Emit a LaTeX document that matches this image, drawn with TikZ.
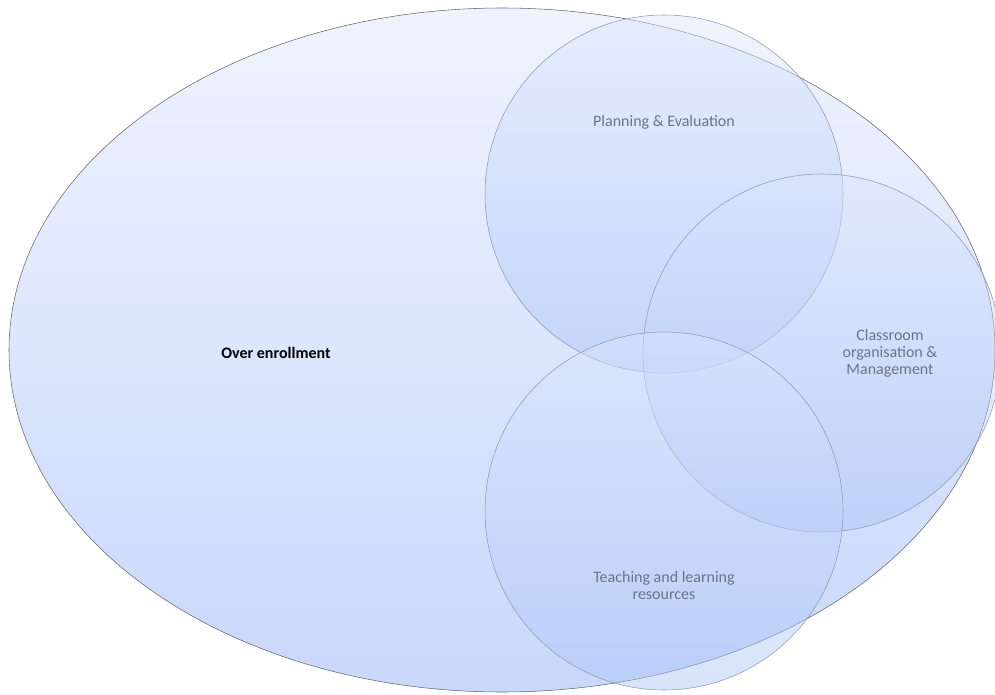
\documentclass[tikz,border=0pt]{standalone}
\usepackage{fontspec}
\setmainfont{Carlito}
\usepackage{tikz}

\definecolor{ovaltop}{HTML}{EFF3FE}
\definecolor{ovalbot}{HTML}{C8D8FB}
\definecolor{ringtop}{HTML}{DCE6FD}
\definecolor{ringbot}{HTML}{A9C2F6}
\definecolor{ringline}{HTML}{8C9BB4}
\definecolor{labelgray}{HTML}{6B7587}

\tikzset{
    oval/.style = {draw = black!60 , top color = ovaltop , bottom color = ovalbot},
    ring/.style = {draw = ringline , top color = ringtop , bottom color = ringbot , fill opacity = 0.45},
    ringlabel/.style = {text = labelgray , align = center , font = \fontsize{12}{12.75}\selectfont}
}

\begin{document}
\begin{tikzpicture}[x = 0.75pt , y = -0.75pt]
    \useasboundingbox (0,0) rectangle (995,695);
    \clip (0,0) rectangle (995,695);
    \shade[oval] (502,350) ellipse (493 and 342); % Ελλειψη
    \shade[ring] (664,194) circle (179); % Planning
    \shade[ring] (822,353) circle (179); % Classroom
    \shade[ring] (664,511) circle (179); % Teaching
    \node[font = \fontsize{12}{12.75}\selectfont\bfseries] (enroll) at (276,353) {Over enrollment};
    \node[ringlabel] (plan) at (664,122) {Planning \& Evaluation};
    \node[ringlabel] (room) at (890,353) {Classroom\\organisation \&\\Management};
    \node[ringlabel] (teach) at (664,585) {Teaching and learning\\resources};
\end{tikzpicture}
\end{document}
